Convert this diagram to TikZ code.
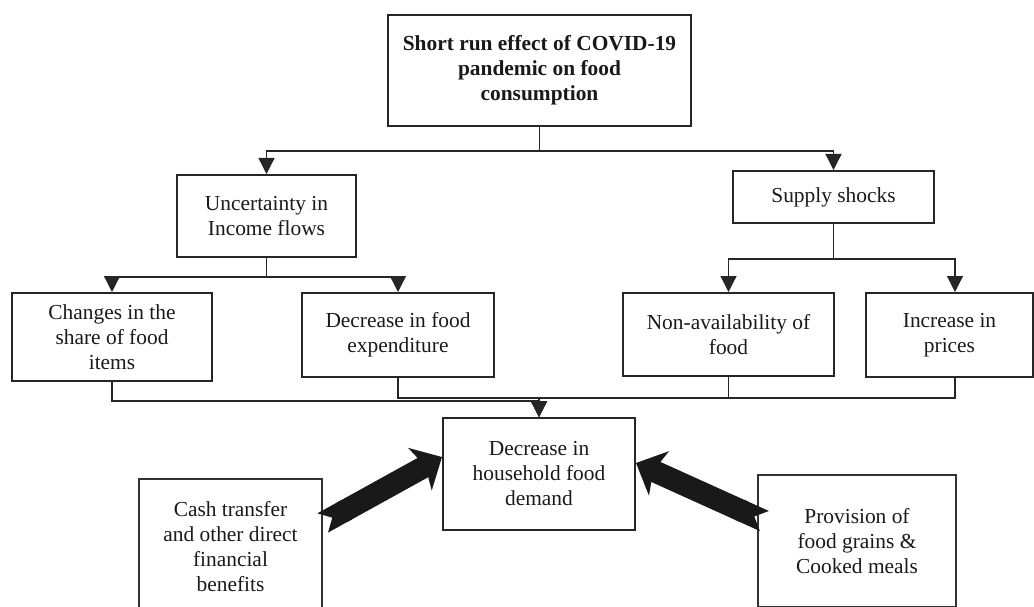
\documentclass[tikz,border=0pt]{standalone}
\usepackage{fontspec}
\setmainfont{Liberation Serif}
\usepackage{tikz}
\usetikzlibrary{arrows.meta}

\begin{document}
\begin{tikzpicture}[x=1pt, y=-1pt, >={Triangle[length=16pt,width=16pt]},
  every node/.style={font=\fontsize{21.4}{25}\selectfont, align=center, text=black!90, inner sep=0pt},
  box/.style={draw=black!85, line width=2pt},
  thinbox/.style={draw=black!80, line width=1.3pt},
  link/.style={->, draw=black!85, line width=1.3pt},
  fat/.style={line width=22pt, draw=black!90, {Triangle Cap[reversed]}-{Stealth[length=25pt,width=48pt,inset=6pt]}}]
\useasboundingbox (0,0) rectangle (1034,607);
\clip (0,0) rectangle (1034,607);

\node [box, minimum width=303pt, minimum height=111pt, font=\fontsize{21.4}{25}\selectfont\bfseries] (T) at (539.5,70.5) {Short run effect of COVID-19\\pandemic on food\\consumption};

\node [box, minimum width=179pt, minimum height=82pt] (U) at (266.5,216) {Uncertainty in\\Income flows};
\node [box, minimum width=201pt, minimum height=52pt] (S) at (833.5,197) {Supply shocks};

\node [box, minimum width=200pt, minimum height=88pt] (C1) at (112,337) {Changes in the\\share of food\\items};
\node [box, minimum width=192pt, minimum height=84pt] (C2) at (398,335) {Decrease in food\\expenditure};
\node [box, minimum width=211pt, minimum height=83pt] (N1) at (728.5,334.5) {Non-availability of\\food};
\node [box, minimum width=167pt, minimum height=84pt] (N2) at (949.5,335) {Increase in\\prices};

\node [box, minimum width=192pt, minimum height=112pt] (D) at (539,474) {Decrease in\\household food\\demand};

\node [thinbox, minimum width=183pt, minimum height=136pt] (F1) at (230.5,547) {Cash transfer\\and other direct\\financial\\benefits};
\node [thinbox, minimum width=198pt, minimum height=132pt] (F2) at (857,541) {Provision of\\food grains \&\\Cooked meals};

% top level
\draw [link] (T.south) -- ++(0,24) -| (U.north);
\draw [link] (T.south) -- ++(0,24) -| (S.north);

% second level
\draw [link] (U.south) -- ++(0,19) -| (C1.north);
\draw [link] (U.south) -- ++(0,19) -| (C2.north);
\draw [link] (S.south) -- ++(0,35) -| (N1.north);
\draw [link] (S.south) -- ++(0,35) -| ([xshift=5.5pt]N2.north);

% into household demand
\draw [link] (C1.south) -- ++(0,19) -| (D.north);
\draw [link] (C2.south) -- ++(0,20) -| (D.north);
\draw [link] (N1.south) -- ++(0,21) -| (D.north);
\draw [link] ([xshift=5.5pt]N2.south) -- ++(0,20) -| (D.north);

% policy arrows
\draw [fat] ([yshift=24pt]F1.east) -- ([yshift=17pt]D.west);
\draw [fat] ([xshift=7pt,yshift=20pt]F2.west) -- ([yshift=11pt]D.east);
\end{tikzpicture}
\end{document}
